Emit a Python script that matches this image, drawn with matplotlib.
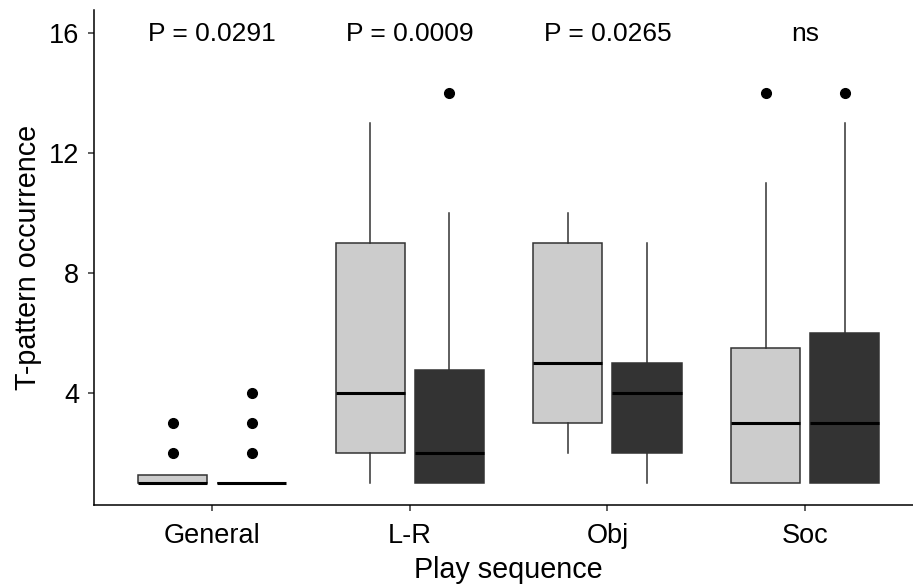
import numpy as np
import matplotlib.pyplot as plt

plt.rcParams['font.family'] = ['Liberation Sans', 'DejaVu Sans']

# categorias y estadisticos de cada caja
categorias = ["General", "L-R", "Obj", "Soc"]
p_valores = ["P = 0.0291", "P = 0.0009", "P = 0.0265", "ns"]

# grupo claro
claro_q1 = [1, 2, 3, 1]
claro_med = [1, 4, 5, 3]
claro_q3 = [1.25, 9, 9, 5.5]
claro_min = [1, 1, 2, 1]
claro_max = [1.25, 13, 10, 11]
claro_out = [[2, 3], [], [], [14]]

# grupo oscuro
oscuro_q1 = [1, 1, 2, 1]
oscuro_med = [1, 2, 4, 3]
oscuro_q3 = [1, 4.75, 5, 6]
oscuro_min = [1, 1, 1, 1]
oscuro_max = [1, 10, 9, 13]
oscuro_out = [[2, 3, 4], [14], [], [14]]


def armar_stats(q1, med, q3, wlo, whi, out):
    stats = []
    for i in range(len(q1)):
        stats.append({"q1": q1[i], "med": med[i], "q3": q3[i],
                      "whislo": wlo[i], "whishi": whi[i],
                      "fliers": np.array(out[i], dtype=float)})
    return stats


fig = plt.figure(figsize=(9.13, 5.87), dpi=100)
ax = fig.add_axes([0.1026, 0.1397, 0.909, 0.8425])

x = np.arange(1, len(categorias) + 1)
borde = "#333333"

grupos = [
    (armar_stats(claro_q1, claro_med, claro_q3, claro_min, claro_max, claro_out), x - 0.2, "#CCCCCC"),
    (armar_stats(oscuro_q1, oscuro_med, oscuro_q3, oscuro_min, oscuro_max, oscuro_out), x + 0.2, "#333333"),
]

for stats, pos, color in grupos:
    ax.bxp(stats, positions=pos, widths=0.35, patch_artist=True,
           showcaps=False,
           boxprops=dict(facecolor=color, edgecolor=borde, linewidth=1.1),
           whiskerprops=dict(color=borde, linewidth=1.1),
           medianprops=dict(color="black", linewidth=2.2),
           flierprops=dict(marker="o", markerfacecolor="black",
                           markeredgecolor="black", markersize=7))

for i, txt in enumerate(p_valores):
    ax.text(x[i], 15.95, txt, ha="center", va="center", fontsize=19, color="black")

ax.set_xlim(0.4, 4.6)
ax.set_ylim(0.25, 16.75)
ax.set_xticks(x)
ax.set_xticklabels(categorias)
ax.set_yticks([4, 8, 12, 16])

for lado in ["top", "right"]:
    ax.spines[lado].set_visible(False)
for lado in ["left", "bottom"]:
    ax.spines[lado].set_color("black")
    ax.spines[lado].set_linewidth(1.1)

ax.tick_params(axis="both", colors="#333333", length=4.5, width=1.1,
               labelsize=19.5, labelcolor="black")
ax.tick_params(axis="x", pad=8.5)
ax.tick_params(axis="y", pad=6)
ax.set_xlabel("Play sequence", fontsize=20.7, labelpad=5)
ax.set_ylabel("T-pattern occurrence", fontsize=20.7, labelpad=5)

plt.savefig("out.png", dpi=100)
